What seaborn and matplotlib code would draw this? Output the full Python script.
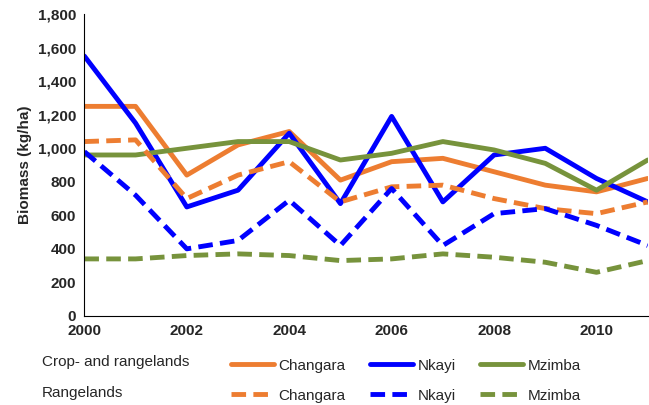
import matplotlib
matplotlib.use("Agg")
import matplotlib.pyplot as plt
import seaborn as sns

years = list(range(2000, 2012))
changara_crop = [1250, 1250, 840, 1020, 1100, 810, 920, 940, 860, 780, 740, 820]
nkayi_crop = [1550, 1150, 650, 750, 1090, 670, 1190, 680, 960, 1000, 820, 680]
mzimba_crop = [960, 960, 1000, 1040, 1040, 930, 970, 1040, 990, 910, 750, 930]
changara_range = [1040, 1050, 700, 840, 920, 680, 770, 780, 700, 640, 610, 680]
nkayi_range = [980, 720, 400, 450, 690, 420, 760, 420, 610, 640, 540, 420]
mzimba_range = [340, 340, 360, 370, 360, 330, 340, 370, 350, 320, 260, 330]

colors = {"Changara": "#ED7D31", "Nkayi": "#0000FF", "Mzimba": "#77933C"}

sns.set_style("white")
plt.rcParams['font.family'] = ['Liberation Sans', 'DejaVu Sans']
fig, ax = plt.subplots(figsize=(6.49, 4.05), dpi=100)
fig.subplots_adjust(left=0.13, right=0.998, top=0.965, bottom=0.22)

crop = {"Changara": changara_crop, "Nkayi": nkayi_crop, "Mzimba": mzimba_crop}
rng = {"Changara": changara_range, "Nkayi": nkayi_range, "Mzimba": mzimba_range}
h_crop, h_rng = [], []
for name, vals in crop.items():
    sns.lineplot(x=years, y=vals, ax=ax, color=colors[name], lw=3.5)
    h_crop.append(ax.lines[-1])
for name, vals in rng.items():
    sns.lineplot(x=years, y=vals, ax=ax, color=colors[name], lw=3.5)
    ax.lines[-1].set_dashes([3, 1.5])
    h_rng.append(ax.lines[-1])

ax.set_xlim(2000, 2011)
ax.set_ylim(0, 1800)
ax.set_xticks(range(2000, 2011, 2))
ax.set_yticks(range(0, 1801, 200))
ax.set_yticklabels([f"{v:,}" for v in range(0, 1801, 200)])
ax.tick_params(labelsize=11, length=0, pad=6)
for lab in ax.get_xticklabels() + ax.get_yticklabels():
    lab.set_fontweight("bold")
ax.set_ylabel("Biomass (kg/ha)", fontsize=11, fontweight="bold")
for s in ["top", "right"]:
    ax.spines[s].set_visible(False)
for s in ["left", "bottom"]:
    ax.spines[s].set_color("black")

handles = [h_crop[0], h_rng[0], h_crop[1], h_rng[1], h_crop[2], h_rng[2]]
labels = ["Changara", "Changara", "Nkayi", "Nkayi", "Mzimba", "Mzimba"]
fig.legend(handles, labels, ncol=3, loc="lower left", bbox_to_anchor=(0.335, -0.028),
           frameon=False, fontsize=11, handlelength=2.8, columnspacing=1.6,
           handletextpad=0.3, labelspacing=1.05)
fig.text(0.065, 0.106, "Crop- and rangelands", fontsize=11, va="center")
fig.text(0.065, 0.03, "Rangelands", fontsize=11, va="center")
fig.savefig("out.png", dpi=100)
